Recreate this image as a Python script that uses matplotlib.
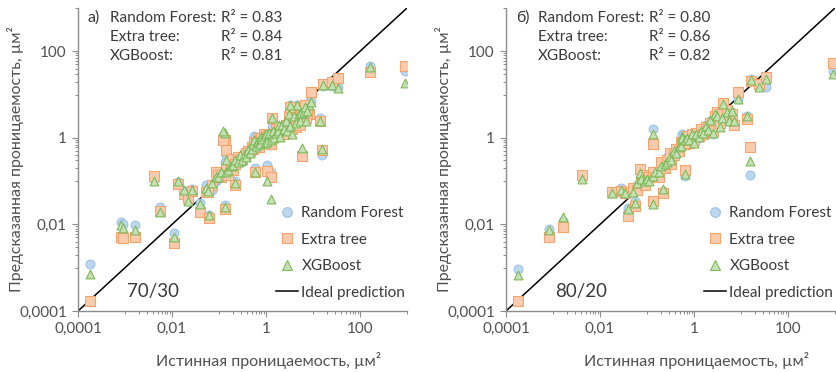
import numpy as np
import matplotlib.pyplot as plt
from matplotlib.lines import Line2D
from matplotlib.ticker import FixedLocator, FixedFormatter, NullFormatter

plt.rcParams['font.family'] = ['Lato', 'DejaVu Sans']

# log10 of permeability, um^2: true value and the three model predictions
# split 70/30
true_a = [-3.75, -3.08, -3.05, -2.79, -2.38, -2.26, -1.96, -1.87, -1.75, -1.65,
          -1.58, -1.40, -1.22, -1.28, -1.15, -1.06, -0.88, -0.86, -0.88, -0.72,
          0.02, 0.11, 0.12, 0.77, 1.19, 1.14, 0.92, 0.95, 1.21, 1.40,
          1.53, 2.21, 2.96, -0.23, -0.66, -0.91, -1.23,
          -1.02, -0.95, -0.85, -0.80, -0.75, -0.70, -0.65, -0.60, -0.55, -0.50,
          -0.45, -0.42, -0.38, -0.35, -0.30, -0.27, -0.25, -0.22, -0.20, -0.18,
          -0.15, -0.12, -0.10, -0.08, -0.05, -0.02, 0.00, 0.03, 0.06, 0.10,
          0.15, 0.18, 0.22, 0.25, 0.28, 0.30, 0.35, 0.38, 0.42, 0.45,
          0.50, 0.52, 0.55, 0.60, 0.63, 0.66, 0.70, 0.72, 0.75, 0.80,
          0.82, 0.85, 0.51, 0.87]
rf_a = [-2.91, -1.95, -1.99, -2.02, -0.95, -1.60, -2.20, -1.02, -1.22, -1.22,
        -1.18, -1.50, -1.78, -1.10, -1.20, -1.00, -0.56, -0.40, -1.54, -0.60,
        -0.62, -0.80, 0.25, -0.40, -0.39, 0.46, 0.83, 0.85, 1.20, 1.20,
        1.18, 1.66, 1.54, -0.70, -1.00, 0.05, -1.20,
        -0.95, -0.85, -0.75, -0.80, -0.60, -0.68, -0.55, -0.52, -0.45, -0.55,
        -0.35, -0.40, -0.32, -0.25, -0.28, -0.18, 0.04, -0.20, -0.10, -0.05,
        -0.15, -0.10, 0.05, -0.05, 0.02, -0.10, 0.10, -0.05, 0.05, -0.10,
        0.10, 0.05, 0.15, 0.10, 0.20, 0.05, 0.25, 0.15, 0.35, 0.20,
        0.45, 0.30, 0.15, 0.45, 0.30, 0.75, 0.55, 0.35, 0.60, 0.50,
        0.70, 0.40, 0.77, 0.58]
et_a = [-3.77, -2.29, -2.31, -2.29, -0.87, -1.70, -2.42, -1.06, -1.30, -1.40,
        -1.22, -1.71, -1.85, -1.25, -1.10, -0.80, -0.05, -0.29, -1.64, -0.49,
        -0.76, -0.90, 0.45, -0.41, -0.29, 0.38, 0.56, 1.07, 1.25, 1.30,
        1.39, 1.51, 1.66, -0.78, -1.08, -0.04, -1.25,
        -0.85, -0.90, -0.70, -0.85, -0.70, -0.75, -0.60, -0.45, -0.50, -0.48,
        -0.40, -0.35, -0.30, -0.30, -0.20, -0.25, -0.10, -0.12, -0.15, 0.00,
        -0.20, -0.05, 0.00, -0.10, 0.10, -0.05, 0.05, 0.00, 0.10, -0.15,
        0.05, 0.10, 0.20, 0.05, 0.25, 0.10, 0.20, 0.10, 0.30, 0.25,
        0.50, 0.35, 0.20, 0.40, 0.25, 0.70, 0.50, 0.30, 0.65, 0.45,
        0.75, 0.45, 0.72, 0.58]
xgb_a = [-3.14, -2.02, -2.08, -2.14, -1.00, -1.72, -2.30, -1.00, -1.20, -1.45,
         -1.20, -1.52, -1.78, -1.15, -1.05, -0.90, 0.12, -0.50, -1.60, -0.65,
         -1.00, -1.41, 0.46, -0.23, -0.25, 0.40, 0.75, 0.82, 1.21, 1.22,
         1.16, 1.64, 1.27, -0.78, -1.05, 0.15, -1.22,
         -0.90, -0.80, -0.80, -0.75, -0.65, -0.62, -0.50, -0.55, -0.40, -0.50,
         -0.38, -0.45, -0.28, -0.35, -0.25, -0.15, -0.05, -0.18, -0.10, -0.08,
         -0.12, -0.15, 0.02, -0.02, 0.05, -0.12, 0.08, -0.10, 0.12, -0.05,
         0.15, 0.00, 0.12, 0.15, 0.30, 0.02, 0.30, 0.20, 0.40, 0.15,
         0.55, 0.28, 0.10, 0.50, 0.35, 0.75, 0.55, 0.40, 0.58, 0.60,
         0.72, 0.38, 0.77, 0.62]

# split 80/20
true_b = [-3.74, -3.09, -2.79, -2.38, -1.75, -1.55, -1.47, -1.40, -1.26, -1.15,
          -0.87, -0.87, -0.65, -0.26, -0.19, 1.13, 1.19, 0.94, 1.21, 1.38,
          1.53, 2.96,
          -1.30, -1.22, -1.12, -1.05, -1.00, -0.95, -0.88, -0.82, -0.75, -0.70,
          -0.62, -0.58, -0.52, -0.48, -0.42, -0.38, -0.32, -0.28, -0.25, -0.20,
          -0.15, -0.10, -0.05, 0.00, 0.05, 0.10, 0.15, 0.20, 0.25, 0.30,
          0.35, 0.40, 0.45, 0.50, 0.55, 0.60, 0.62, 0.70, 0.75, 0.80, 0.85]
rf_b = [-3.02, -2.11, -1.93, -0.92, -1.28, -1.16, -1.30, -1.62, -1.45, -0.78,
        0.21, -1.50, -1.22, 0.08, -0.89, 0.50, -0.86, 0.90, 1.37, 1.20,
        1.18, 1.54,
        -1.20, -1.10, -1.00, -1.00, -0.90, -0.95, -0.85, -0.80, -0.85, -0.60,
        -0.65, -0.45, -0.40, -0.55, -0.35, -0.30, -0.25, -0.15, 0.05, -0.12,
        -0.05, -0.08, 0.05, -0.10, 0.08, 0.00, 0.12, 0.15, 0.30, 0.20,
        0.40, 0.10, 0.45, 0.55, 0.30, 0.50, 0.75, 0.55, 0.40, 0.60, 0.35]
et_b = [-3.77, -2.28, -2.07, -0.86, -1.26, -1.22, -1.27, -1.81, -1.58, -0.73,
        -0.15, -1.45, -1.27, -0.13, -0.75, 0.44, -0.21, 1.06, 1.31, 1.25,
        1.41, 1.72,
        -1.15, -1.20, -1.05, -1.10, -0.85, -0.90, -0.80, -0.90, -0.90, -0.55,
        -0.70, -0.50, -0.35, -0.60, -0.40, -0.25, -0.30, -0.10, -0.10, -0.15,
        0.05, -0.12, 0.10, -0.05, 0.12, 0.05, 0.20, 0.10, 0.25, 0.25,
        0.35, 0.15, 0.50, 0.60, 0.35, 0.55, 0.80, 0.65, 0.45, 0.55, 0.30]
xgb_b = [-3.17, -2.12, -1.83, -0.94, -1.27, -1.20, -1.28, -1.64, -1.50, -0.81,
         0.08, -1.52, -1.18, 0.05, -0.83, 0.50, -0.54, 0.89, 1.34, 1.18,
         1.37, 1.47,
         -1.25, -1.05, -0.95, -1.00, -0.95, -1.00, -0.88, -0.78, -0.80, -0.65,
         -0.60, -0.55, -0.45, -0.50, -0.30, -0.35, -0.20, -0.18, 0.00, -0.05,
         0.00, -0.05, 0.08, -0.12, 0.10, 0.02, 0.15, 0.12, 0.28, 0.18,
         0.42, 0.12, 0.55, 0.50, 0.25, 0.45, 0.78, 0.60, 0.38, 0.62, 0.38]

panels = [
    (true_a, rf_a, et_a, xgb_a, 'а)', ['0.83', '0.84', '0.81'], '70/30'),
    (true_b, rf_b, et_b, xgb_b, 'б)', ['0.80', '0.86', '0.82'], '80/20'),
]
model_names = ['Random Forest:', 'Extra tree:', 'XGBoost:']

major_ticks = [1e-4, 1e-2, 1, 100]
major_labels = ['0,0001', '0,01', '1', '100']
minor_ticks = [m * 10.0 ** e for e in (-3, -1, 1) for m in range(1, 10)] + [1000]

axis_grey = '#8c8c8c'
text_grey = '#505050'
dark = '#3a3a3a'

fig = plt.figure(figsize=(8.37, 3.72), dpi=100)
lefts = [78 / 837, 506 / 837]
width = 329 / 837

for (t, rf, et, xg, tag, r2, split), left in zip(panels, lefts):
    ax = fig.add_axes([left, 61 / 372, width, 303 / 372])
    t = 10.0 ** np.array(t)
    ax.scatter(t, 10.0 ** np.array(rf), s=40, marker='o', facecolor='#bdd7ee',
               edgecolor='#9dc3e6', linewidth=0.8, zorder=3)
    ax.scatter(t, 10.0 ** np.array(et), s=44, marker='s', facecolor='#f8cbad',
               edgecolor='#f4a46c', linewidth=0.8, zorder=4)
    ax.scatter(t, 10.0 ** np.array(xg), s=40, marker='^', facecolor='#c5e0b4',
               edgecolor='#7fb95a', linewidth=0.8, zorder=5)
    ax.plot([1e-4, 1e3], [1e-4, 1e3], color='black', lw=1.1, zorder=2)

    ax.set_xscale('log')
    ax.set_yscale('log')
    ax.set_xlim(1e-4, 1e3)
    ax.set_ylim(1e-4, 1e3)
    for axis in (ax.xaxis, ax.yaxis):
        axis.set_major_locator(FixedLocator(major_ticks))
        axis.set_major_formatter(FixedFormatter(major_labels))
        axis.set_minor_locator(FixedLocator(minor_ticks))
        axis.set_minor_formatter(NullFormatter())
    ax.tick_params(which='major', length=4, width=0.8, color=axis_grey,
                   labelsize=11, labelcolor=text_grey, pad=4)
    ax.tick_params(which='minor', length=2.5, width=0.7, color=axis_grey)
    for side in ('top', 'right'):
        ax.spines[side].set_visible(False)
    for side in ('left', 'bottom'):
        ax.spines[side].set_color(axis_grey)
        ax.spines[side].set_linewidth(1.0)

    ax.set_xlabel('Истинная проницаемость, µм²', fontsize=11.5, color=text_grey)
    ax.xaxis.set_label_coords(0.58, -0.135)
    ax.set_ylabel('Предсказанная проницаемость, µм²', fontsize=11.5, color=text_grey)
    ax.yaxis.set_label_coords(-0.165, 0.5)

    ax.text(0.03, 0.968, tag, transform=ax.transAxes, fontsize=11.5,
            color=dark, va='center')
    for i, (name, r) in enumerate(zip(model_names, r2)):
        y = 0.968 - i * 0.063
        ax.text(0.097, y, name, transform=ax.transAxes, fontsize=11,
                color=dark, va='center')
        ax.text(0.435, y, 'R² = ' + r, transform=ax.transAxes, fontsize=11,
                color=dark, va='center')
    ax.text(0.148, 0.063, split, transform=ax.transAxes, fontsize=13.5,
            color=dark, va='center')

    handles = [
        Line2D([], [], ls='none', marker='o', ms=7, mfc='#bdd7ee', mec='#9dc3e6', mew=0.8),
        Line2D([], [], ls='none', marker='s', ms=7, mfc='#f8cbad', mec='#f4a46c', mew=0.8),
        Line2D([], [], ls='none', marker='^', ms=7, mfc='#c5e0b4', mec='#7fb95a', mew=0.8),
        Line2D([], [], color='black', lw=1.1),
    ]
    leg = ax.legend(handles, ['Random Forest', 'Extra tree', 'XGBoost', 'Ideal prediction'],
                    loc='lower right', bbox_to_anchor=(0.995, 0.037), frameon=False,
                    fontsize=11, handlelength=1.5, handletextpad=0.2,
                    labelspacing=0.82, borderaxespad=0.0, borderpad=0.0)
    for txt in leg.get_texts():
        txt.set_color(dark)

fig.savefig('out.png', dpi=100)
